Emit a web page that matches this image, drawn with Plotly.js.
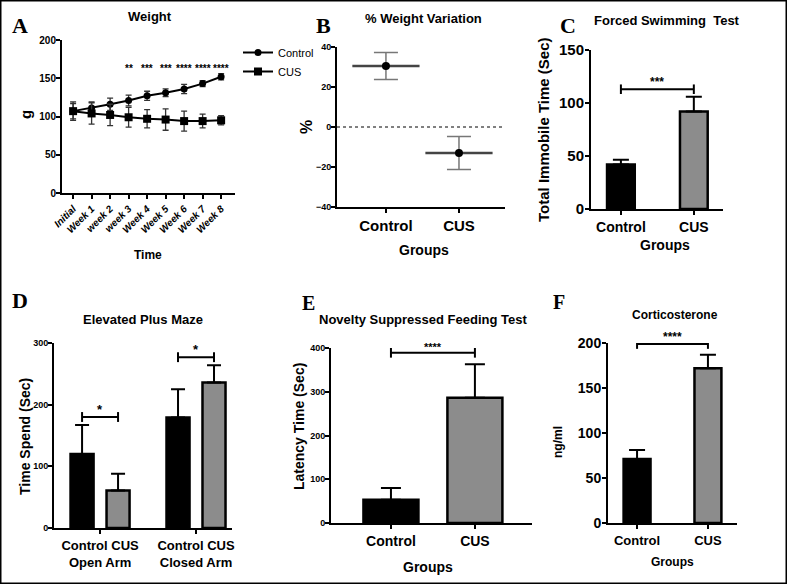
<!DOCTYPE html>
<html>
<head>
<meta charset="utf-8">
<script src="https://cdn.plot.ly/plotly-3.0.1.min.js"></script>
<style>
  html, body { margin: 0; padding: 0; background: #fff; }
  #fig { width: 787px; height: 584px; }
</style>
</head>
<body>
<div id="fig"></div>
<script>
//data
var weeks = ['Initial', 'Week 1', 'week 2', 'week 3', 'Week 4', 'Week 5', 'Week 6', 'Week 7', 'Week 8'];
var weightControl = [107, 111, 116, 121, 127, 131, 136, 143, 152];
var weightControlSD = [12, 8, 8, 7, 6, 5, 6, 4, 4];
var weightCUS = [107, 104, 102, 99, 97, 96, 94, 94, 95];
var weightCUSSD = [10, 14, 14, 13, 12, 14, 13, 9, 6];
var weightStars = ['', '', '', '**', '***', '***', '****', '****', '****'];
var weightStarLevel = 163;

var groups = ['Control', 'CUS'];
var variation = [30.5, -13];
var variationSD = [6.7, 8.3];

var fst = [42, 92];
var fstSD = [4.5, 14];

var arms = ['Open Arm', 'Closed Arm'];
var epmControl = [120, 179];
var epmControlSD = [47, 46];
var epmCUS = [61, 236];
var epmCUSSD = [27, 28];

var nsf = [53, 286];
var nsfSD = [27, 77];

var cort = [71, 172];
var cortSD = [10, 15];

//significance brackets: [height, label]
var sigB = [42.5, '****'];
var sigC = [113, '***'];
var sigD = [[180, '*'], [277, '*']];
var sigE = [389, '****'];
var sigF = [199, '****'];

var W = 787, H = 584;
var FONT = 'Liberation Sans, Arial, sans-serif';
var SERIF = 'Liberation Serif, Times New Roman, serif';
var GREY = '#8c8c8c';
var barGap = 0.25;
var groupOffset = (1 - barGap) / 4;

function xd(a, b) { return [a / W, b / W]; }
function yd(top, bottom) { return [1 - bottom / H, 1 - top / H]; }
function zeros(n) { var z = []; for (var i = 0; i < n; i++) z.push(0); return z; }

function axis(extra) {
    var ax = {
        showline: true, linecolor: '#000', linewidth: 2,
        ticks: 'outside', ticklen: 4, tickwidth: 2, tickcolor: '#000',
        showgrid: false, zeroline: false, fixedrange: true,
        tickfont: {family: FONT, size: 10, color: '#000', weight: 'bold'}
    };
    for (var k in extra) ax[k] = extra[k];
    return ax;
}
function yaxis(extra) {
    var ax = axis(extra);
    ax.ticklabelstandoff = -2;
    return ax;
}

var annotations = [];
var shapes = [];

function txt(x, y, text, size, opts) {
    var a = {
        xref: 'paper', yref: 'paper', x: x / W, y: 1 - y / H,
        text: text, showarrow: false, xanchor: 'center', yanchor: 'middle',
        font: {family: FONT, size: size, color: '#000', weight: 'bold'}
    };
    for (var k in (opts || {})) a[k] = opts[k];
    annotations.push(a);
}
function letter(x, y, text, size) {
    txt(x, y, text, size, {font: {family: SERIF, size: size, color: '#000', weight: 'bold'}});
}

function bracket(n, xa, xb, h, d, label, size, col) {
    var xr = n == 1 ? 'x' : 'x' + n;
    var yr = n == 1 ? 'y' : 'y' + n;
    var ln = {color: '#000', width: 2};
    shapes.push({type: 'line', xref: xr, yref: yr, x0: xa, x1: xb, y0: h, y1: h, line: ln});
    shapes.push({type: 'line', xref: xr, yref: yr, x0: xa, x1: xa, y0: h - d, y1: h + d, line: ln});
    shapes.push({type: 'line', xref: xr, yref: yr, x0: xb, x1: xb, y0: h - d, y1: h + d, line: ln});
    annotations.push({
        xref: xr, yref: yr, x: (xa + xb) / 2, y: h, text: label, showarrow: false,
        yanchor: 'bottom', yshift: -2,
        font: {family: FONT, size: size, color: col || '#000', weight: 'bold'}
    });
}

function errs(arr, upOnly, w, col, th) {
    var e = {type: 'data', array: arr, visible: true, color: col || '#000', thickness: th || 2, width: w};
    if (upOnly) { e.symmetric = false; e.arrayminus = zeros(arr.length); }
    return e;
}

var data = [];

//A weight
data.push({
    type: 'scatter', mode: 'lines+markers', name: 'Control', x: weeks, y: weightControl,
    xaxis: 'x', yaxis: 'y',
    line: {color: '#000', width: 2}, marker: {symbol: 'circle', size: 7, color: '#000'},
    error_y: errs(weightControlSD, false, 3, '#333', 1.3)
});
data.push({
    type: 'scatter', mode: 'lines+markers', name: 'CUS', x: weeks, y: weightCUS,
    xaxis: 'x', yaxis: 'y',
    line: {color: '#000', width: 2}, marker: {symbol: 'square', size: 8, color: '#000'},
    error_y: errs(weightCUSSD, false, 3, '#333', 1.3)
});
for (var i = 0; i < weeks.length; i++) {
    if (!weightStars[i]) continue;
    annotations.push({
        xref: 'x', yref: 'y', x: i, y: weightStarLevel, text: weightStars[i], showarrow: false,
        font: {family: FONT, size: 10, color: '#000', weight: 'bold'}
    });
}

//B weight variation
data.push({
    type: 'scatter', mode: 'markers', x: groups, y: variation, xaxis: 'x2', yaxis: 'y2', showlegend: false,
    marker: {symbol: 'line-ew', size: 48, line: {color: '#444', width: 2.5}}
});
data.push({
    type: 'scatter', mode: 'markers', x: groups, y: variation, xaxis: 'x2', yaxis: 'y2', showlegend: false,
    marker: {symbol: 'circle', size: 8, color: '#000'},
    error_y: errs(variationSD, false, 12, '#777', 1.5)
});
shapes.push({type: 'line', xref: 'x2 domain', yref: 'y2', x0: 0, x1: 1, y0: 0, y1: 0,
    line: {color: '#000', width: 1, dash: 'dot'}});
bracket(2, 0, 1, sigB[0], 2.2, sigB[1], 9, '#444');

//C forced swimming
data.push({
    type: 'bar', x: groups, y: fst, xaxis: 'x3', yaxis: 'y3', showlegend: false, width: 0.38,
    marker: {color: ['#000', GREY], line: {color: '#000', width: 2.5}},
    error_y: errs(fstSD, true, 8)
});
bracket(3, 0, 1, sigC[0], 4.5, sigC[1], 12);

//D elevated plus maze
data.push({
    type: 'bar', name: 'Control', x: arms, y: epmControl, xaxis: 'x4', yaxis: 'y4', showlegend: false,
    marker: {color: '#000', line: {color: '#000', width: 2.5}},
    error_y: errs(epmControlSD, true, 7)
});
data.push({
    type: 'bar', name: 'CUS', x: arms, y: epmCUS, xaxis: 'x4', yaxis: 'y4', showlegend: false,
    marker: {color: GREY, line: {color: '#000', width: 2.5}},
    error_y: errs(epmCUSSD, true, 7)
});
for (var j = 0; j < arms.length; j++) {
    bracket(4, j - groupOffset, j + groupOffset, sigD[j][0], 8, sigD[j][1], 13);
}

//E novelty suppressed feeding
data.push({
    type: 'bar', x: groups, y: nsf, xaxis: 'x5', yaxis: 'y5', showlegend: false, width: 0.655,
    marker: {color: ['#000', GREY], line: {color: '#000', width: 2.5}},
    error_y: errs(nsfSD, true, 10)
});
bracket(5, 0, 1, sigE[0], 11, sigE[1], 11);

//F corticosterone
data.push({
    type: 'bar', x: groups, y: cort, xaxis: 'x6', yaxis: 'y6', showlegend: false, width: 0.38,
    marker: {color: ['#000', GREY], line: {color: '#000', width: 2.5}},
    error_y: errs(cortSD, true, 8)
});
bracket(6, 0, 1, sigF[0], 5.5, sigF[1], 12);

//panel letters, titles, axis titles
letter(20, 25, 'A', 22);
letter(323, 25, 'B', 22);
letter(568, 25, 'C', 22);
letter(20, 300, 'D', 22);
letter(308, 303, 'E', 20);
letter(559, 302, 'F', 20);

txt(150, 17, 'Weight', 13);
txt(424, 18, '% Weight Variation', 13);
txt(667, 20, 'Forced Swimming&nbsp; Test', 13);
txt(143, 319, 'Elevated Plus Maze', 13);
txt(423, 319, 'Novelty Suppressed Feeding Test', 13);
txt(675, 315, 'Corticosterone', 12);

txt(26, 115, 'g', 15, {textangle: -90});
txt(148, 255, 'Time', 12);
txt(306, 127, '%', 16, {textangle: -90});
txt(424, 250, 'Groups', 14);
txt(543, 130, 'Total Immobile Time (Sec)', 15, {textangle: -90});
txt(665, 245, 'Groups', 14);
txt(25, 437, 'Time Spend (Sec)', 14, {textangle: -90});
txt(299, 427, 'Latency Time (Sec)', 14, {textangle: -90});
txt(428, 567, 'Groups', 14);
txt(558, 442, 'ng/ml', 12, {textangle: -90});
txt(672, 562, 'Groups', 12);

//outer frame
shapes.push({type: 'rect', xref: 'paper', yref: 'paper', x0: 0, x1: 1, y0: 0, y1: 1,
    line: {color: '#000', width: 3}});

var layout = {
    width: W, height: H,
    margin: {l: 0, r: 0, t: 0, b: 0, pad: 0},
    paper_bgcolor: '#fff', plot_bgcolor: 'rgba(0,0,0,0)',
    barmode: 'group', bargap: barGap, bargroupgap: 0.36,
    showlegend: true,
    legend: {
        x: 238 / W, y: 1 - 38 / H, xanchor: 'left', yanchor: 'top',
        bgcolor: 'rgba(0,0,0,0)', itemwidth: 30, tracegroupgap: 0,
        font: {family: FONT, size: 11, color: '#000'}
    },
    xaxis: axis({domain: xd(62, 235), anchor: 'y', type: 'category', range: [-0.6, 8.75],
        tickangle: -45, tickfont: {family: FONT, size: 10, color: '#000', weight: 'bold', style: 'italic'}}),
    yaxis: yaxis({domain: yd(40, 193), anchor: 'x', range: [0, 200], dtick: 50}),
    xaxis2: axis({domain: xd(337, 505), anchor: 'y2', type: 'category', range: [-0.67, 1.63],
        tickfont: {family: FONT, size: 15, color: '#000', weight: 'bold'}}),
    yaxis2: yaxis({domain: yd(47, 207), anchor: 'x2', range: [-40, 40], dtick: 20,
        tickfont: {family: FONT, size: 9, color: '#000', weight: 'bold'}}),
    xaxis3: axis({domain: xd(591, 723), anchor: 'y3', type: 'category', range: [-0.41, 1.4],
        tickfont: {family: FONT, size: 14, color: '#000', weight: 'bold'}}),
    yaxis3: yaxis({domain: yd(50, 209), anchor: 'x3', range: [0, 150], dtick: 50,
        tickfont: {family: FONT, size: 15, color: '#000', weight: 'bold'}}),
    xaxis4: axis({domain: xd(54, 232), anchor: 'y4', type: 'category', range: [-0.48, 1.375],
        tickvals: arms, ticktext: ['Control CUS<br>Open Arm', 'Control CUS<br>Closed Arm'],
        tickfont: {family: FONT, size: 13, color: '#000', weight: 'bold'}}),
    yaxis4: yaxis({domain: yd(343, 528), anchor: 'x4', range: [0, 300], dtick: 100,
        tickfont: {family: FONT, size: 9, color: '#000', weight: 'bold'}}),
    xaxis5: axis({domain: xd(331, 532), anchor: 'y5', type: 'category', range: [-0.714, 1.68],
        tickfont: {family: FONT, size: 14, color: '#000', weight: 'bold'}}),
    yaxis5: yaxis({domain: yd(348, 523), anchor: 'x5', range: [0, 400], dtick: 100,
        tickfont: {family: FONT, size: 9, color: '#000', weight: 'bold'}}),
    xaxis6: axis({domain: xd(608, 737), anchor: 'y6', type: 'category', range: [-0.41, 1.41],
        tickfont: {family: FONT, size: 13, color: '#000', weight: 'bold'}}),
    yaxis6: yaxis({domain: yd(343, 523), anchor: 'x6', range: [0, 200], dtick: 50,
        tickfont: {family: FONT, size: 14, color: '#000', weight: 'bold'}}),
    annotations: annotations,
    shapes: shapes
};

Plotly.newPlot('fig', data, layout, {displayModeBar: false, staticPlot: true});
</script>
</body>
</html>
